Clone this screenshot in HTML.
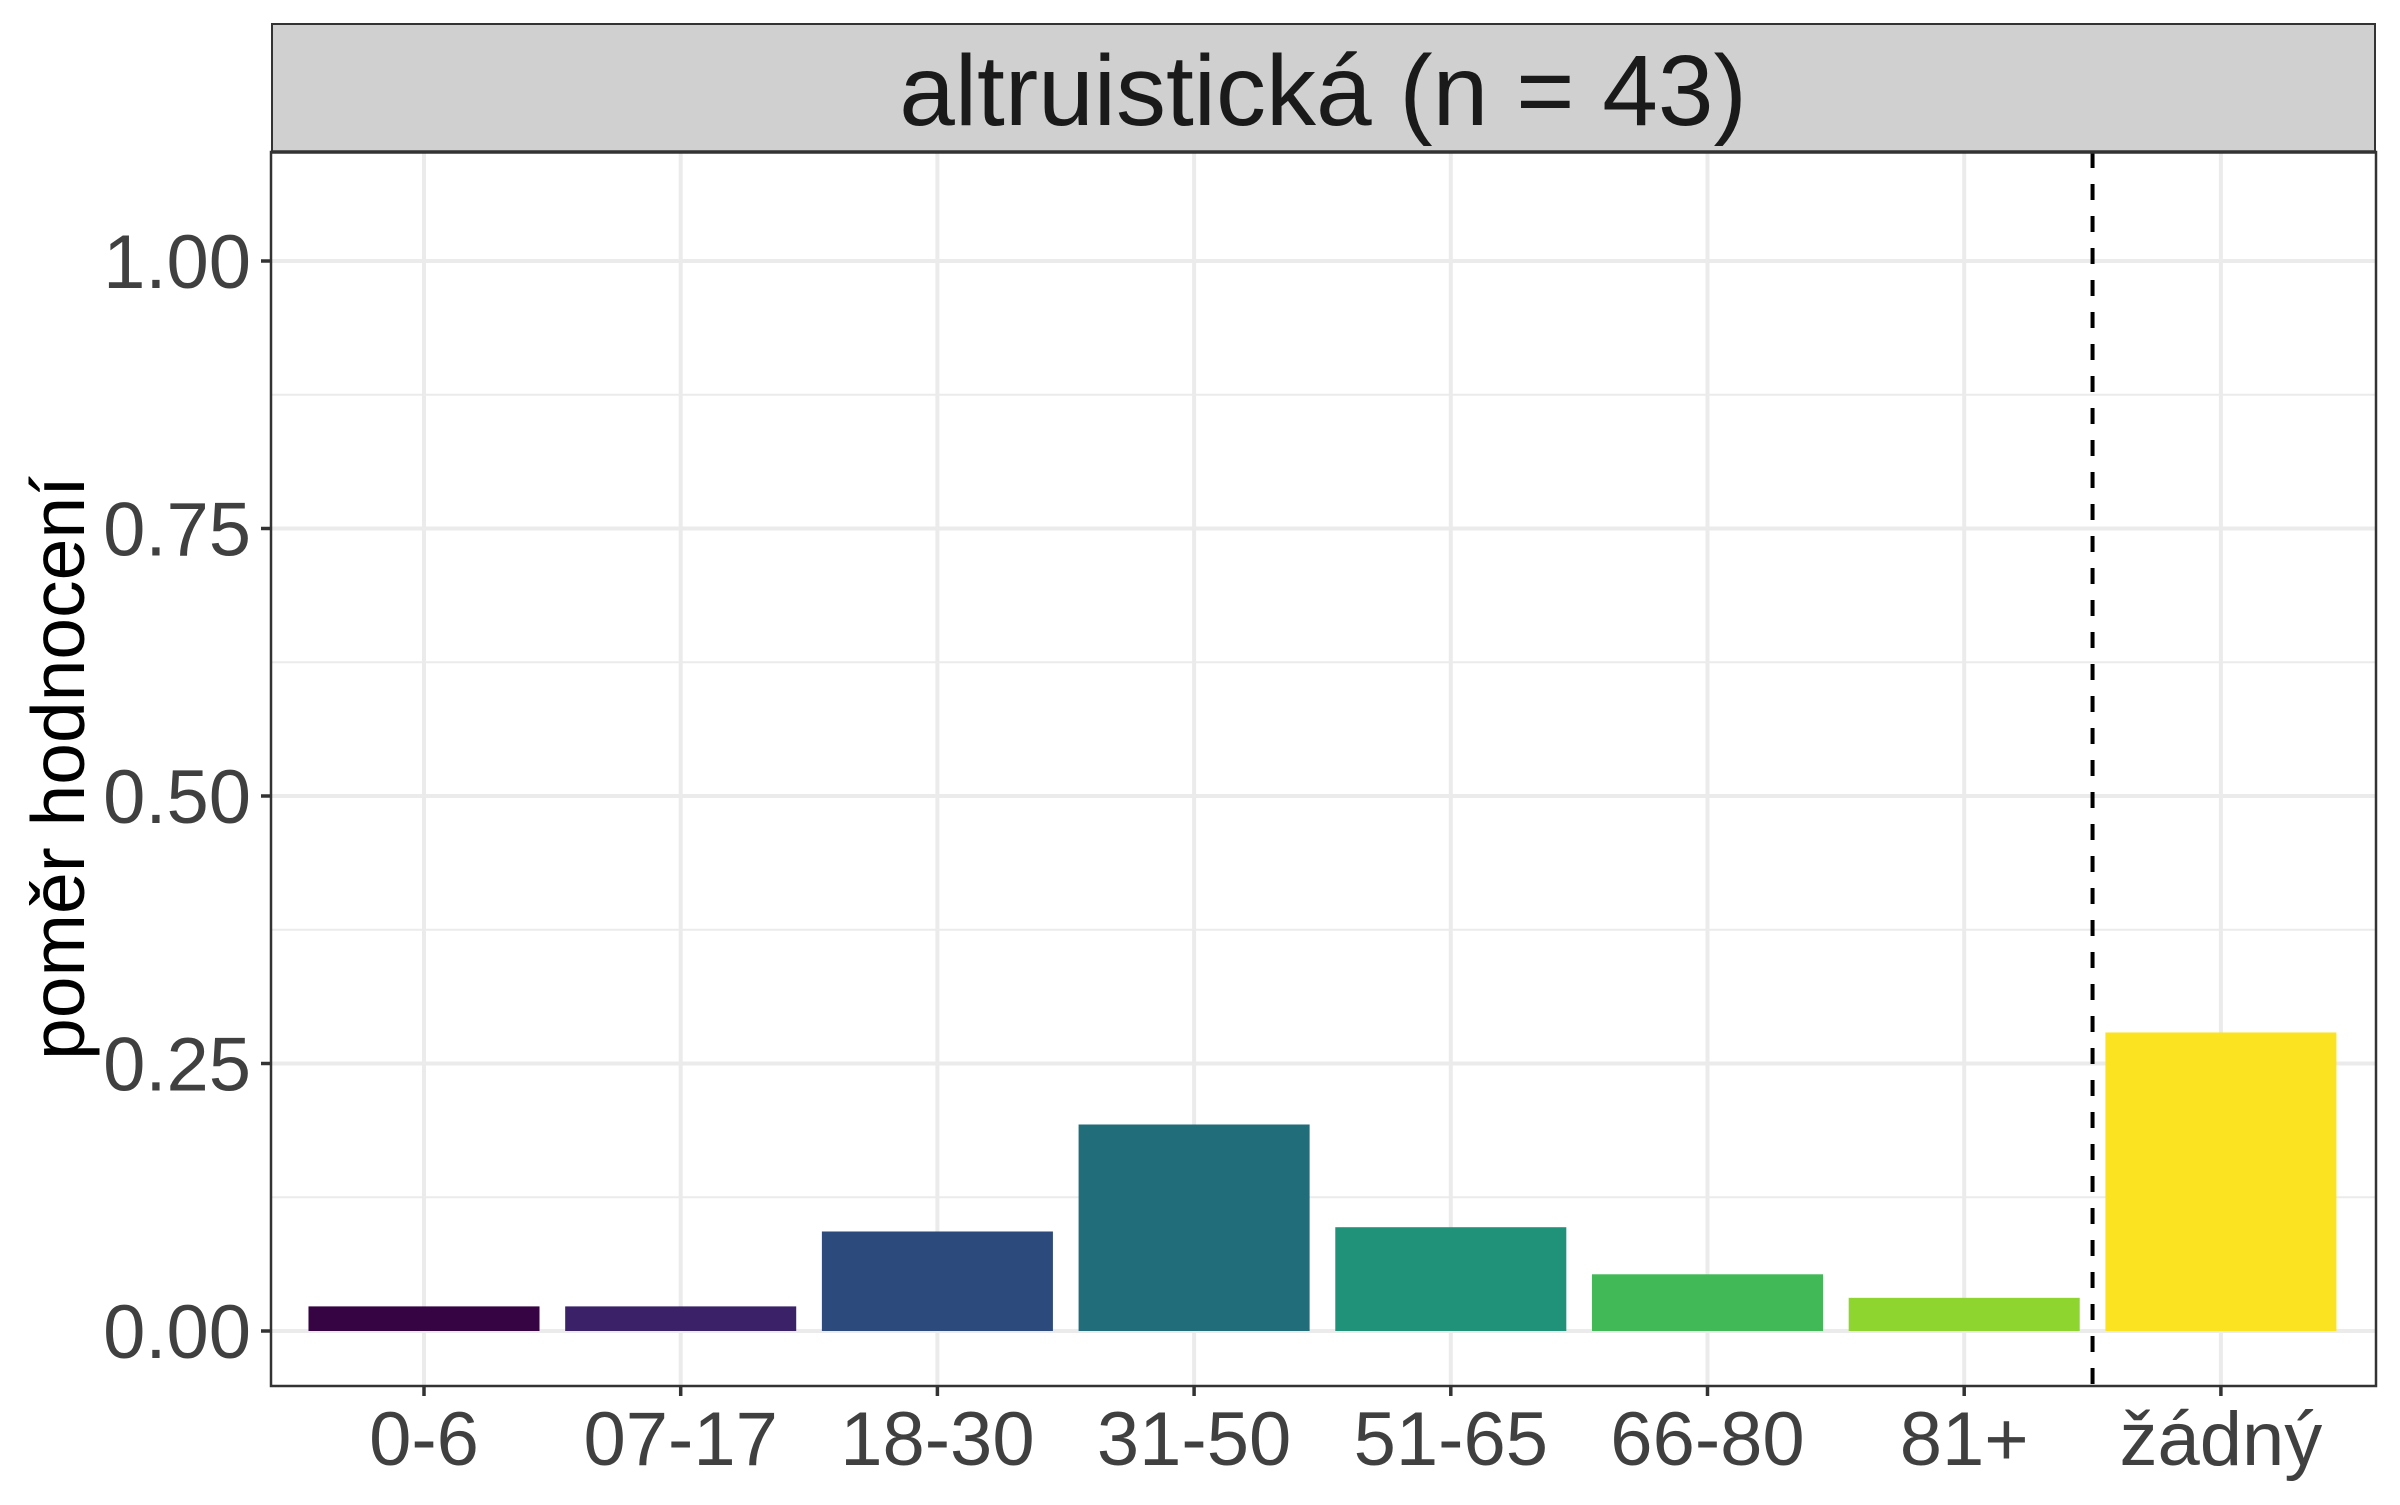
<!DOCTYPE html>
<html><head><meta charset="utf-8"><style>
html,body{margin:0;padding:0;background:#fff;}
svg text{font-family:"Liberation Sans",Arial,sans-serif;}
</style></head><body>
<svg id="chart" width="2400" height="1500" viewBox="0 0 2400 1500" xmlns="http://www.w3.org/2000/svg">
<rect x="0" y="0" width="2400" height="1500" fill="#fff"/>
<g id="grid"></g>
<g id="bars"></g>
<g id="axes"></g>
<rect x="272" y="24" width="2103" height="128" fill="#d0d0d0" stroke="#333" stroke-width="2"/>
<line x1="271" y1="152" x2="2376" y2="152" stroke="#333" stroke-width="3.5"/>
<text x="1323" y="125" font-size="100" text-anchor="middle" fill="#1a1a1a">altruistická (n = 43)</text>
<text transform="translate(84,768) rotate(-90)" font-size="75" text-anchor="middle" fill="#000">poměr hodnocení</text>
</svg>
<script>
const categories = ['0-6','07-17','18-30','31-50','51-65','66-80','81+','žádný'];
const values = [0.023,0.023,0.093,0.193,0.097,0.053,0.031,0.279];
const colors = ['#360442','#3a2168','#2c4a7c','#216e7a','#20927a','#41b957','#8fd52f','#fbe321'];
const yTicks = [0,0.25,0.5,0.75,1.0];
const yTickLabels = ['0.00','0.25','0.50','0.75','1.00'];
const yMinor = [0.125,0.375,0.625,0.875];
const separatorAt = 6.5;

const NS='http://www.w3.org/2000/svg';
const L=271,R=2376,T=152,B=1386;
const y0=1331, yPerUnit=1070;
const x0=424, step=256.7;
function yScale(v){return y0 - v*yPerUnit;}
function xScale(i){return x0 + i*step;}
function mk(tag,attrs,parent){const e=document.createElementNS(NS,tag);for(const k in attrs)e.setAttribute(k,attrs[k]);parent.appendChild(e);return e;}
const grid=document.getElementById('grid'),bars=document.getElementById('bars'),axes=document.getElementById('axes');
mk('rect',{x:L,y:T,width:R-L,height:B-T,fill:'#fff'},grid);
yMinor.forEach(v=>{const y=yScale(v);
  const l=mk('line',{x1:L,x2:R,y1:y,y2:y,stroke:'#ebebeb','stroke-width':2},grid);
  
  });
yTicks.forEach((v,i)=>{const y=yScale(v);
  const l=mk('line',{x1:L,x2:R,y1:y,y2:y,stroke:'#ebebeb','stroke-width':4},grid);
  
  
  const t=mk('line',{x1:L-10,x2:L,y1:y,y2:y,stroke:'#333','stroke-width':3.5},axes);
  
  
  const tx=mk('text',{x:L-20,y:y+27,'font-size':76,'text-anchor':'end',fill:'#404040'},axes);
  tx.textContent=yTickLabels[i];
  
  });
categories.forEach((c,i)=>{const x=xScale(i);
  const l=mk('line',{x1:x,x2:x,y1:T,y2:B,stroke:'#ebebeb','stroke-width':4},grid);
  
  
  const bw=step*0.9, top=yScale(values[i]);
  const r=mk('rect',{x:x-bw/2,y:top,width:bw,height:y0-top,fill:colors[i]},bars);
  
  
  const t=mk('line',{x1:x,x2:x,y1:B,y2:B+10,stroke:'#333','stroke-width':3.5},axes);
  
  
  const tx=mk('text',{x:x,y:1465,'font-size':76,'text-anchor':'middle',fill:'#404040'},axes);
  tx.textContent=c;
  
  });
const sx=x0+separatorAt*step;
const d=mk('line',{x1:sx,x2:sx,y1:T,y2:B,stroke:'#000','stroke-width':4,'stroke-dasharray':'16 16'},axes);


const fr=mk('rect',{x:L,y:T,width:R-L,height:B-T,fill:'none',stroke:'#333','stroke-width':2.5},axes);


</script>
</body></html>
